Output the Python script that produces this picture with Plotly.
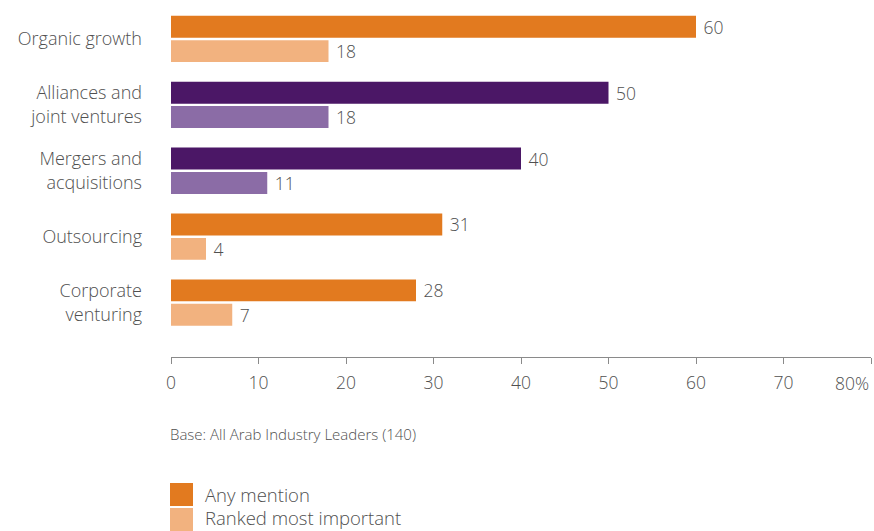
import plotly.graph_objects as go

# Survey responses (% of respondents)
categories = [
    "Organic growth",
    "Alliances and<br>joint ventures",
    "Mergers and<br>acquisitions",
    "Outsourcing",
    "Corporate<br>venturing",
]
any_mention = [60, 50, 40, 31, 28]
ranked_most_important = [18, 18, 11, 4, 7]
x_ticks = [0, 10, 20, 30, 40, 50, 60, 70, 80]
x_tick_text = ["0", "10", "20", "30", "40", "50", "60", "70", ""]

# Palette: orange family for most rows, purple for the two partnership rows
ORANGE, ORANGE_LIGHT = "#E27A1F", "#F2B27F"
PURPLE, PURPLE_LIGHT = "#4B1766", "#8B6CA6"
purple_rows = {1, 2}
dark_colors = [PURPLE if i in purple_rows else ORANGE for i in range(len(categories))]
light_colors = [PURPLE_LIGHT if i in purple_rows else ORANGE_LIGHT for i in range(len(categories))]

W, H = 874, 531
M_L, M_R, M_T, M_B = 171, 3, 6, 174
PW, PH = W - M_L - M_R, H - M_T - M_B


def px_x(px):
    return (px - M_L) / PW


def px_y(py):
    return (H - M_B - py) / PH


FONT = "'Open Sans', Lato, sans-serif"
TEXT_COLOR = "#505050"


def f(size):
    return dict(family=FONT, size=size, color=TEXT_COLOR, weight=300)


fig = go.Figure()
fig.add_trace(go.Bar(
    y=categories, x=any_mention, orientation="h", name="Any mention",
    marker=dict(color=dark_colors, line=dict(width=0)),
    text=any_mention, texttemplate="\u00a0%{x}", textposition="outside",
    cliponaxis=False, constraintext="none", textfont=f(17.5),
    showlegend=False,
))
fig.add_trace(go.Bar(
    y=categories, x=ranked_most_important, orientation="h", name="Ranked most important",
    marker=dict(color=light_colors, line=dict(width=0)),
    text=ranked_most_important, texttemplate="\u00a0%{x}", textposition="outside",
    cliponaxis=False, constraintext="none", textfont=f(17.5),
    showlegend=False,
))

fig.update_layout(
    width=W, height=H,
    margin=dict(l=M_L, r=M_R, t=M_T, b=M_B),
    paper_bgcolor="white", plot_bgcolor="white",
    barmode="group", bargap=0.26, bargroupgap=0.1,
    font=f(16),
    xaxis=dict(
        range=[0, 80], tickvals=x_ticks, ticktext=x_tick_text,
        showgrid=False, zeroline=False,
        showline=True, linecolor="#8a8a8a", linewidth=1,
        ticks="outside", ticklen=6, tickcolor="#8a8a8a", tickwidth=1,
        ticklabelstandoff=4,
        tickfont=f(17.5),
    ),
    yaxis=dict(
        range=[4.826, -0.5], autorange=False,
        showgrid=False, zeroline=False, showline=False,
        ticks="", ticklabelstandoff=28,
        tickfont=f(18),
    ),
)

annotations = [
    dict(x=80, y=px_y(383), xref="x", yref="paper", text="80%",
         xanchor="right", yanchor="middle", showarrow=False, font=f(17.5)),
    dict(x=px_x(168), y=px_y(434), xref="paper", yref="paper",
         text="Base: All Arab Industry Leaders (140)",
         xanchor="left", yanchor="middle", showarrow=False, font=f(15)),
    dict(x=px_x(203), y=px_y(494), xref="paper", yref="paper", text="Any mention",
         xanchor="left", yanchor="middle", showarrow=False, font=f(18.5)),
    dict(x=px_x(203), y=px_y(517), xref="paper", yref="paper", text="Ranked most important",
         xanchor="left", yanchor="middle", showarrow=False, font=f(18.5)),
]
fig.update_layout(annotations=annotations)

# Legend swatches
fig.add_shape(type="rect", xref="paper", yref="paper",
              x0=px_x(170), x1=px_x(193), y0=px_y(506), y1=px_y(483),
              fillcolor=ORANGE, line=dict(width=0))
fig.add_shape(type="rect", xref="paper", yref="paper",
              x0=px_x(170), x1=px_x(193), y0=px_y(531), y1=px_y(508),
              fillcolor=ORANGE_LIGHT, line=dict(width=0))

fig.write_html("out.html")
